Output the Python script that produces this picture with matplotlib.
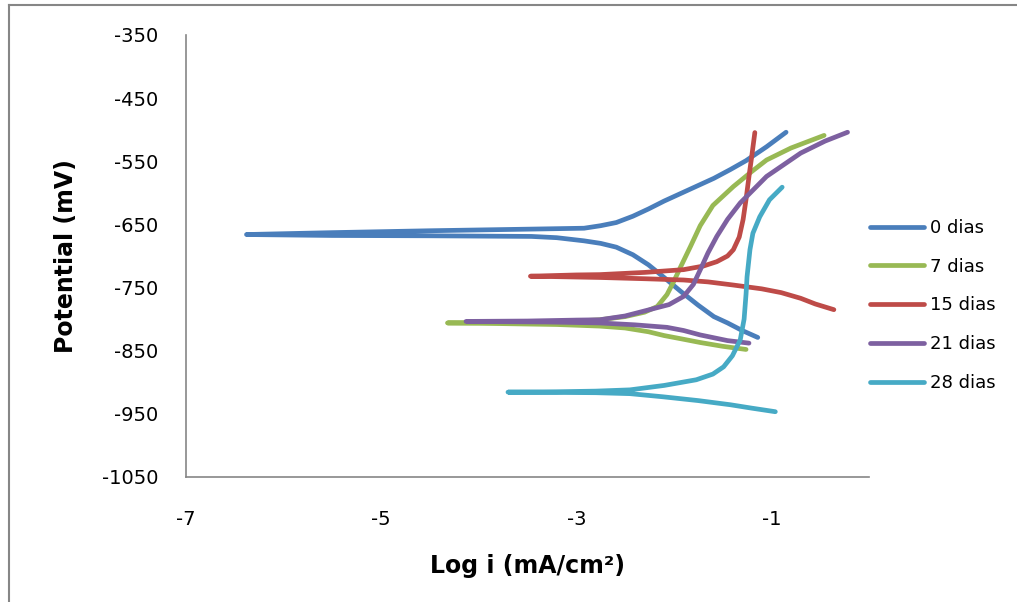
import matplotlib
matplotlib.use("Agg")
import matplotlib.pyplot as plt
from matplotlib.lines import Line2D

plt.rcParams["axes.unicode_minus"] = False

# %% polarization curves, each from cathodic end -> Ecorr -> anodic end
x_0 = [-1.14, -1.30, -1.45, -1.59, -1.75, -1.93, -2.10, -2.26, -2.42, -2.59, -2.75, -2.92,
       -3.20, -3.46, -4.50, -5.50, -6.38,
       -5.50, -4.50, -3.50, -2.92, -2.75, -2.59, -2.42, -2.26, -2.10, -1.93, -1.76, -1.59,
       -1.42, -1.26, -1.05, -0.85]
y_0 = [-829, -818, -806, -796, -778, -756, -734, -714, -698, -686, -680, -676,
       -671, -669, -668, -667.5, -666,
       -663, -660, -657.5, -656, -652, -647, -637, -625.5, -613, -601, -589, -577,
       -563, -549, -527, -504]

x_7 = [-1.26, -1.50, -1.73, -1.93, -2.10, -2.26, -2.50, -2.76, -3.20, -3.80, -4.32,
       -3.60, -3.00, -2.76, -2.50, -2.30, -2.17, -2.07, -2.00, -1.93, -1.83, -1.73, -1.60,
       -1.39, -1.20, -1.05, -0.80, -0.46]
y_7 = [-848, -843, -837, -831, -826, -820, -814, -811, -808.5, -807, -806,
       -805, -803, -801, -796, -789, -780, -761, -740, -717, -685, -652, -620,
       -590, -566, -548, -529, -509]

x_15 = [-0.36, -0.55, -0.70, -0.90, -1.10, -1.39, -1.65, -1.90, -2.30, -2.76, -3.10, -3.47,
        -3.00, -2.76, -2.30, -1.90, -1.70, -1.56, -1.45, -1.39, -1.33, -1.29, -1.26, -1.23,
        -1.20, -1.17]
y_15 = [-785, -776, -767, -758, -752, -746, -741, -738, -736, -734, -733, -732,
        -730, -729.5, -726, -721.6, -716, -709, -700, -690, -670, -642, -610, -574,
        -540, -504.5]

x_21 = [-1.23, -1.45, -1.73, -1.90, -2.07, -2.40, -2.76, -3.30, -4.13,
        -3.50, -3.00, -2.76, -2.50, -2.25, -2.05, -1.90, -1.80, -1.73, -1.65, -1.56, -1.45,
        -1.32, -1.05, -0.70, -0.45, -0.22]
y_21 = [-838, -834, -825, -818, -813, -809, -806, -804.5, -803.6,
        -803, -801.5, -801, -795, -785, -777, -764, -745, -722, -695, -669, -642,
        -616, -574, -537, -518, -504]

x_28 = [-0.96, -1.20, -1.42, -1.75, -2.11, -2.45, -2.80, -3.30, -3.70,
        -3.20, -2.80, -2.45, -2.10, -1.77, -1.60, -1.49, -1.40, -1.32, -1.28, -1.26, -1.25,
        -1.22, -1.19, -1.12, -1.02, -0.89]
y_28 = [-946.6, -941, -935.6, -929, -923, -918, -916.5, -916, -915.6,
        -915, -914, -912, -905, -896, -887, -875.5, -858, -833, -800, -760, -733,
        -690, -664, -638, -611, -591]

labels = ["0 dias", "7 dias", "15 dias", "21 dias", "28 dias"]
colors = ["#4A7EBB", "#98B954", "#BE4B48", "#7D60A0", "#46AAC5"]
curves = [(x_0, y_0), (x_7, y_7), (x_15, y_15), (x_21, y_21), (x_28, y_28)]

# %%
fig = plt.figure(figsize=(10.17, 6.02), dpi=100)
ax = fig.add_axes([186 / 1017, 1 - 477 / 602, (869 - 186) / 1017, (477 - 35) / 602])

for (xs, ys), lab, col in zip(curves, labels, colors):
    ax.plot(xs, ys, color=col, lw=3.4, label=lab, solid_capstyle="round",
            solid_joinstyle="round")

ax.set_xlim(-7, 0)
ax.set_ylim(-1050, -350)
ax.set_xticks([-7, -5, -3, -1])
ax.set_yticks(range(-1050, -349, 100))
ax.tick_params(length=0, labelsize=14)
ax.tick_params(axis="y", pad=20)
ax.tick_params(axis="x", pad=24)

for s in ["top", "right"]:
    ax.spines[s].set_visible(False)
for s in ["left", "bottom"]:
    ax.spines[s].set_color("#868686")
    ax.spines[s].set_linewidth(1.2)

ax.set_ylabel("Potential (mV)", fontsize=17, fontweight="bold", labelpad=17)
ax.set_xlabel("Log i (mA/cm²)", fontsize=17, fontweight="bold", labelpad=18)

leg = ax.legend(loc="center left", bbox_to_anchor=(870 / 1017, 1 - 305.5 / 602),
                bbox_transform=fig.transFigure, frameon=False, fontsize=13,
                handlelength=3.0, handletextpad=0.3, labelspacing=1.15,
                borderpad=0, borderaxespad=0)

# chart area border
fig.add_artist(Line2D([9 / 1017, 1], [1 - 5 / 602, 1 - 5 / 602], color="#868686",
                      lw=1.5, transform=fig.transFigure))
fig.add_artist(Line2D([9 / 1017, 9 / 1017], [0, 1 - 5 / 602], color="#868686",
                      lw=1.5, transform=fig.transFigure))

fig.savefig("out.png", dpi=100)
